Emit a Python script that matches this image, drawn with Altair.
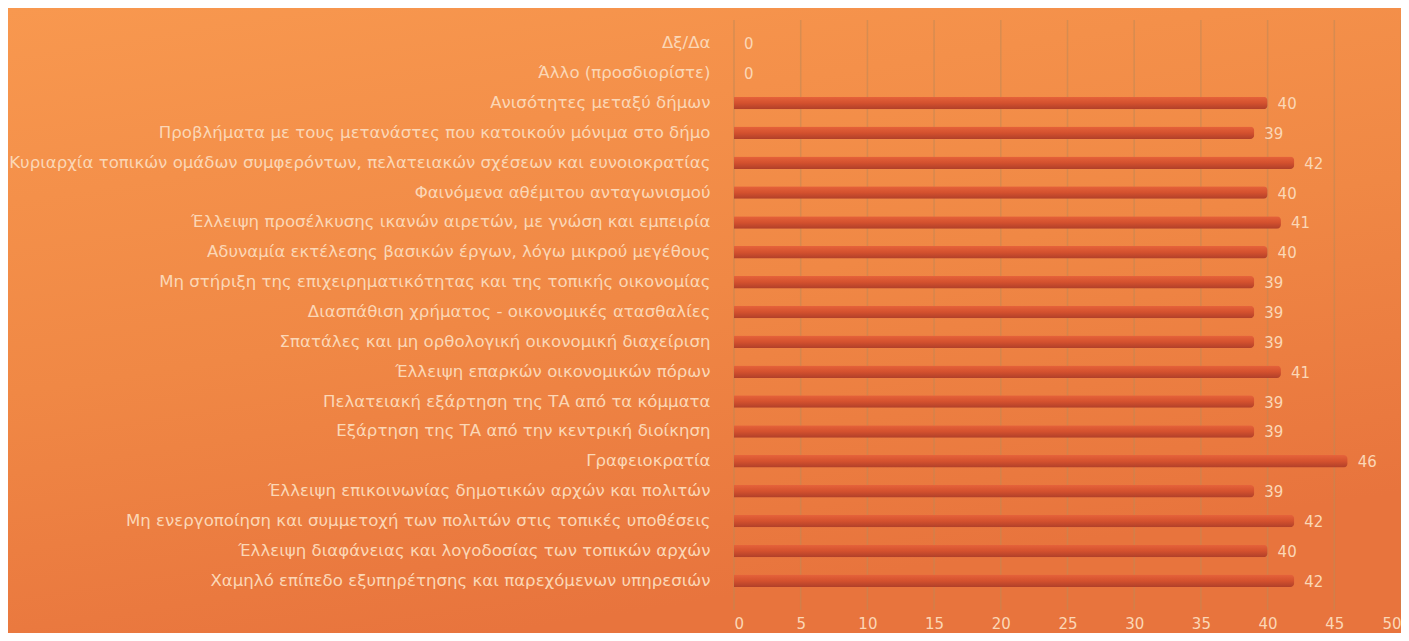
import altair as alt
import pandas as pd

categories = [
    "Δξ/Δα",
    "Άλλο (προσδιορίστε)",
    "Ανισότητες μεταξύ δήμων",
    "Προβλήματα με τους μετανάστες που κατοικούν μόνιμα στο δήμο",
    "Κυριαρχία τοπικών ομάδων συμφερόντων, πελατειακών σχέσεων και ευνοιοκρατίας",
    "Φαινόμενα αθέμιτου ανταγωνισμού",
    "Έλλειψη προσέλκυσης ικανών αιρετών, με γνώση και εμπειρία",
    "Αδυναμία εκτέλεσης βασικών έργων, λόγω μικρού μεγέθους",
    "Μη στήριξη της επιχειρηματικότητας και της τοπικής οικονομίας",
    "Διασπάθιση χρήματος - οικονομικές ατασθαλίες",
    "Σπατάλες και μη ορθολογική οικονομική διαχείριση",
    "Έλλειψη επαρκών οικονομικών πόρων",
    "Πελατειακή εξάρτηση της ΤΑ από τα κόμματα",
    "Εξάρτηση της ΤΑ από την κεντρική διοίκηση",
    "Γραφειοκρατία",
    "Έλλειψη επικοινωνίας δημοτικών αρχών και πολιτών",
    "Μη ενεργοποίηση και συμμετοχή των πολιτών στις τοπικές υποθέσεις",
    "Έλλειψη διαφάνειας και λογοδοσίας των τοπικών αρχών",
    "Χαμηλό επίπεδο εξυπηρέτησης και παρεχόμενων υπηρεσιών",
]
values = [0, 0, 40, 39, 42, 40, 41, 40, 39, 39, 39, 41, 39, 39, 46, 39, 42, 40, 42]
x_ticks = [0, 5, 10, 15, 20, 25, 30, 35, 40, 45, 50]

df = pd.DataFrame({"cat": categories, "val": values})
grid_df = pd.DataFrame({"t": x_ticks})

FONT = "DejaVu Sans"
PEACH = "#fbd7b6"

W, H = 667, 568
PAD = {"left": 726, "top": 20, "right": 0, "bottom": 37}

x_scale = alt.Scale(domain=[0, 50], nice=False)

y_enc = alt.Y("cat:N", sort=categories, title=None,
              scale=alt.Scale(paddingInner=0.58, paddingOuter=0.3),
              axis=alt.Axis(labelColor=PEACH, labelFont=FONT, labelFontSize=16.6,
                            labelPadding=24, ticks=False, domain=False,
                            labelLimit=2000, zindex=1))
x_enc = alt.X("val:Q", title=None, scale=x_scale,
              axis=alt.Axis(values=x_ticks, labelColor=PEACH, labelFont=FONT,
                            labelFontSize=15, labelPadding=20, ticks=False,
                            domain=False, grid=False, zindex=1))

backdrop = alt.Chart(df).mark_rect(
    color=alt.Gradient(
        gradient="linear",
        stops=[alt.GradientStop(color="#f8984f", offset=0),
               alt.GradientStop(color="#f08845", offset=0.55),
               alt.GradientStop(color="#e8743d", offset=1)],
        x1=0, x2=0.35, y1=0, y2=1),
).encode(
    x=alt.value(-PAD["left"]), x2=alt.value(W + 10),
    y=alt.value(-PAD["top"]), y2=alt.value(H + PAD["bottom"]),
)

grid = alt.Chart(grid_df).mark_rule(
    color="#c08855", opacity=0.55, strokeWidth=1.5
).encode(
    x=alt.X("t:Q", scale=x_scale),
    y=alt.value(-8), y2=alt.value(H + 14),
)

bars = alt.Chart(df).mark_bar(
    size=12.5,
    cornerRadiusEnd=4,
    color=alt.Gradient(
        gradient="linear",
        stops=[alt.GradientStop(color="#e6633b", offset=0),
               alt.GradientStop(color="#d4512e", offset=0.5),
               alt.GradientStop(color="#b03f29", offset=1)],
        x1=0, x2=0, y1=0, y2=1),
).encode(x=x_enc, y=y_enc)

labels = alt.Chart(df).mark_text(
    align="left", dx=10, dy=1, font=FONT, fontSize=15, color=PEACH
).encode(x=alt.X("val:Q", scale=x_scale), y=alt.Y("cat:N", sort=categories),
         text="val:Q")

chart = alt.layer(backdrop, grid, bars, labels).properties(
    width=W,
    height=H,
    autosize=alt.AutoSizeParams(type="none"),
    padding=PAD,
    background="#f08846",
).configure_view(stroke=None)

chart.save("out.html", embed_options={"renderer": "svg", "actions": False})
